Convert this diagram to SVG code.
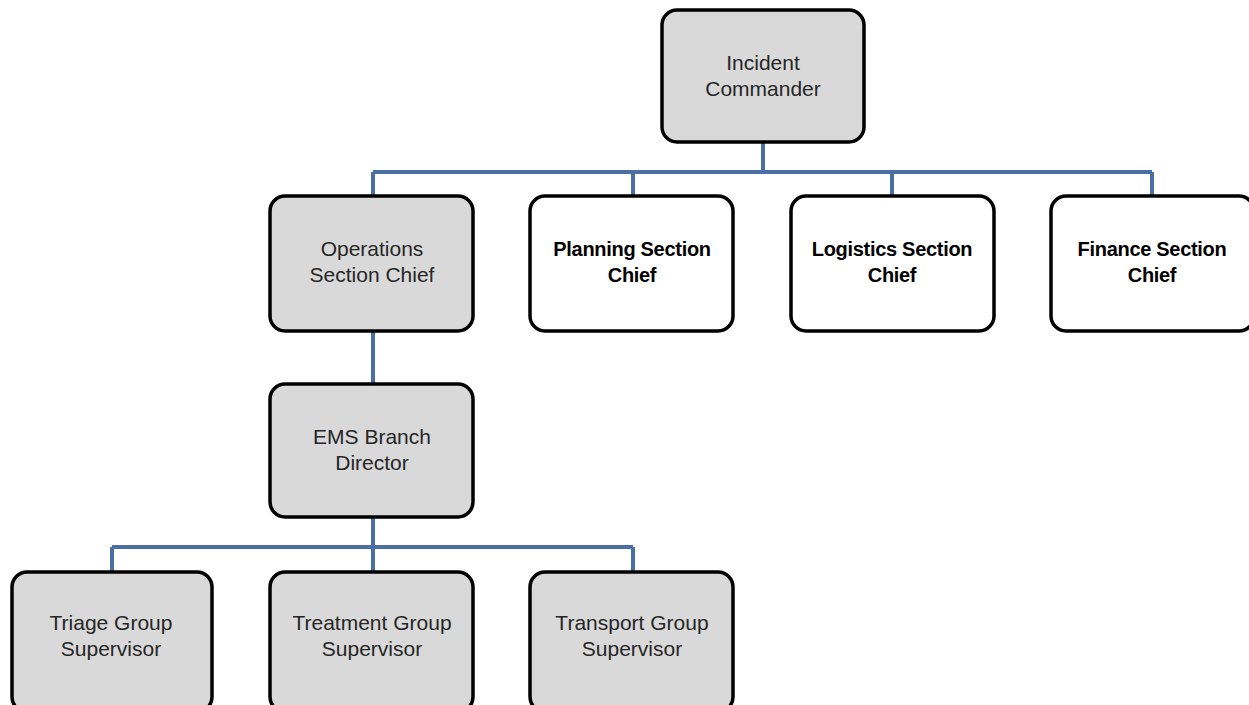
<svg xmlns="http://www.w3.org/2000/svg" width="1249" height="705" viewBox="0 0 1249 705">
<style>
.box{stroke:#000;stroke-width:3.5}
.g{fill:#d9d9d9}
.w{fill:#fff}
.t{font-family:"Liberation Sans",Arial,sans-serif;font-size:21px;fill:#262626;text-anchor:middle}
.b{font-family:"Liberation Sans",Arial,sans-serif;font-size:20px;font-weight:bold;fill:#000;text-anchor:middle;letter-spacing:-0.3px}
.c{fill:none;stroke:#4a6fa5;stroke-width:4}
</style>
<rect width="1249" height="705" fill="#fff"/>
<g id="connectors">
<path class="c" d="M763 143V172M373 172H1152M373 172V196M633 172V196M892 172V196M1152 172V196"/>
<path class="c" d="M373 331V384"/>
<path class="c" d="M373 517V547M112 547H633M112 547V572M373 547V572M633 547V572"/>
</g>
<g id="incident-commander">
<rect class="box g" x="662" y="10" width="202" height="132" rx="15"/>
<text class="t" x="763" y="70">Incident</text>
<text class="t" x="763" y="96">Commander</text>
</g>
<g id="operations">
<rect class="box g" x="270" y="196" width="203" height="135" rx="15"/>
<text class="t" x="372" y="256">Operations</text>
<text class="t" x="372" y="282">Section Chief</text>
</g>
<g id="planning">
<rect class="box w" x="530" y="196" width="203" height="135" rx="15"/>
<text class="b" x="632" y="256">Planning Section</text>
<text class="b" x="632" y="282">Chief</text>
</g>
<g id="logistics">
<rect class="box w" x="791" y="196" width="203" height="135" rx="15"/>
<text class="b" x="892" y="256">Logistics Section</text>
<text class="b" x="892" y="282">Chief</text>
</g>
<g id="finance">
<rect class="box w" x="1051" y="196" width="203" height="135" rx="15"/>
<text class="b" x="1152" y="256">Finance Section</text>
<text class="b" x="1152" y="282">Chief</text>
</g>
<g id="ems">
<rect class="box g" x="270" y="384" width="203" height="133" rx="15"/>
<text class="t" x="372" y="444">EMS Branch</text>
<text class="t" x="372" y="470">Director</text>
</g>
<g id="triage">
<rect class="box g" x="12" y="572" width="200" height="140" rx="15"/>
<text class="t" x="111" y="630">Triage Group</text>
<text class="t" x="111" y="656">Supervisor</text>
</g>
<g id="treatment">
<rect class="box g" x="270" y="572" width="203" height="140" rx="15"/>
<text class="t" x="372" y="630">Treatment Group</text>
<text class="t" x="372" y="656">Supervisor</text>
</g>
<g id="transport">
<rect class="box g" x="530" y="572" width="203" height="140" rx="15"/>
<text class="t" x="632" y="630">Transport Group</text>
<text class="t" x="632" y="656">Supervisor</text>
</g>
</svg>
